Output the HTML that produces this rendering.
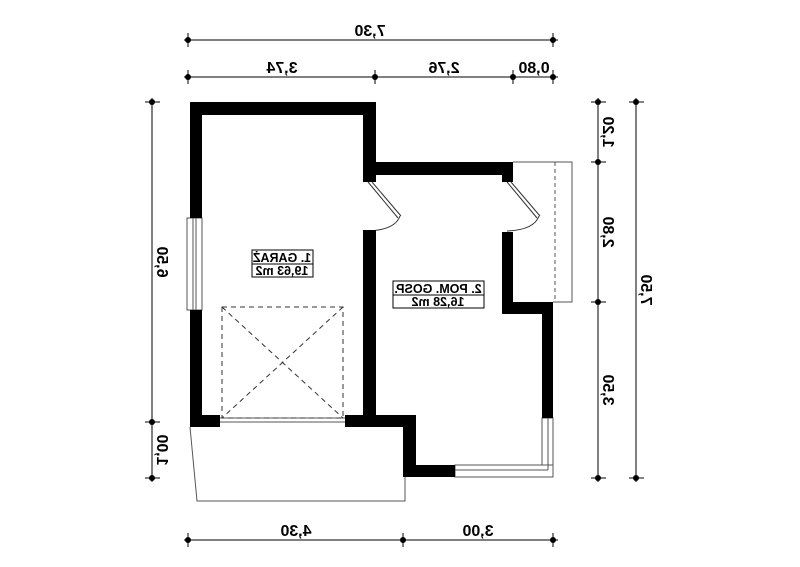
<!DOCTYPE html>
<html><head><meta charset="utf-8"><style>html,body{margin:0;padding:0;background:#fff}svg{display:block}</style></head>
<body>
<svg width="800" height="567" viewBox="0 0 800 567" xmlns="http://www.w3.org/2000/svg" font-family="Liberation Sans, sans-serif" font-weight="bold">
<rect width="800" height="567" fill="#fff"/>
<g stroke="#000" stroke-width="1">
<line x1="184" y1="40" x2="558" y2="40"/>
<line x1="188" y1="33" x2="188" y2="47"/><line x1="553" y1="33" x2="553" y2="47"/>
<line x1="184" y1="77" x2="558" y2="77"/>
<line x1="188" y1="70" x2="188" y2="84"/><line x1="375" y1="70" x2="375" y2="84"/><line x1="513" y1="70" x2="513" y2="84"/><line x1="553" y1="70" x2="553" y2="84"/>
<line x1="184" y1="540" x2="558" y2="540"/>
<line x1="188" y1="533" x2="188" y2="547"/><line x1="403" y1="533" x2="403" y2="547"/><line x1="553" y1="533" x2="553" y2="547"/>
<line x1="152" y1="98" x2="152" y2="482"/>
<line x1="145" y1="102" x2="160" y2="102"/><line x1="145" y1="422" x2="160" y2="422"/><line x1="145" y1="478" x2="160" y2="478"/>
<line x1="598" y1="98" x2="598" y2="482"/>
<line x1="591" y1="102" x2="606" y2="102"/><line x1="591" y1="162" x2="606" y2="162"/><line x1="591" y1="302" x2="606" y2="302"/><line x1="591" y1="478" x2="606" y2="478"/>
<line x1="636" y1="98" x2="636" y2="482"/>
<line x1="629" y1="102" x2="644" y2="102"/><line x1="629" y1="478" x2="644" y2="478"/>
</g>
<g fill="#000">
<circle cx="188" cy="40" r="3"/><circle cx="553" cy="40" r="3"/>
<circle cx="188" cy="77" r="3"/><circle cx="375" cy="77" r="3"/><circle cx="513" cy="77" r="3"/><circle cx="553" cy="77" r="3"/>
<circle cx="188" cy="540" r="3"/><circle cx="403" cy="540" r="3"/><circle cx="553" cy="540" r="3"/>
<circle cx="152" cy="102" r="3"/><circle cx="152" cy="422" r="3"/><circle cx="152" cy="478" r="3"/>
<circle cx="598" cy="102" r="3"/><circle cx="598" cy="162" r="3"/><circle cx="598" cy="302" r="3"/><circle cx="598" cy="478" r="3"/>
<circle cx="636" cy="102" r="3"/><circle cx="636" cy="478" r="3"/>
</g>
<g font-size="16" text-anchor="middle">
<text transform="translate(370,36) scale(-1,1)">7,30</text>
<text transform="translate(282,73) scale(-1,1)">3,74</text>
<text transform="translate(444,73) scale(-1,1)">2,76</text>
<text transform="translate(534,73) scale(-1,1)">0,80</text>
<text transform="translate(296,536) scale(-1,1)">4,30</text>
<text transform="translate(478,536) scale(-1,1)">3,00</text>
<text transform="translate(157,262) scale(-1,1) rotate(-90)">6,50</text>
<text transform="translate(157,450) scale(-1,1) rotate(-90)">1,00</text>
<text transform="translate(603,132) scale(-1,1) rotate(-90)">1,20</text>
<text transform="translate(603,232) scale(-1,1) rotate(-90)">2,80</text>
<text transform="translate(603,390) scale(-1,1) rotate(-90)">3,50</text>
<text transform="translate(641,290) scale(-1,1) rotate(-90)">7,50</text>
</g>
<g fill="none" stroke="#555" stroke-width="1">
<polyline points="190,427 197,501 405,501 405,427"/>
<polyline points="513,162 572,162 572,302 553,302"/>
<line x1="555" y1="162" x2="555" y2="302" stroke-dasharray="4,3"/>
<rect x="187" y="218" width="15" height="92" fill="#fff"/>
<line x1="193" y1="218" x2="193" y2="310"/><line x1="196" y1="218" x2="196" y2="310"/>
<rect x="542" y="418" width="11" height="59" fill="#fff"/>
<rect x="455" y="465" width="98" height="12" fill="#fff"/>
<line x1="455" y1="470" x2="548" y2="470"/><line x1="548" y1="418" x2="548" y2="470"/>
<line x1="220" y1="418" x2="345" y2="418"/><line x1="220" y1="422" x2="345" y2="422"/>
</g>
<g fill="none" stroke="#333" stroke-width="1" stroke-dasharray="5,4">
<rect x="222" y="307" width="121" height="111"/>
<line x1="222" y1="307" x2="343" y2="418"/><line x1="343" y1="307" x2="222" y2="418"/>
</g>
<g fill="none" stroke="#333" stroke-width="1">
<line x1="368" y1="182" x2="398" y2="218"/><line x1="372" y1="182" x2="401" y2="216"/>
<path d="M400 216 Q395 230 368 231"/>
<line x1="507" y1="182" x2="537" y2="218"/><line x1="511" y1="182" x2="540" y2="216"/>
<path d="M539 216 Q534 230 507 231"/>
</g>
<g fill="#000">
<rect x="190" y="102" width="186" height="13"/>
<rect x="190" y="102" width="12" height="116"/>
<rect x="190" y="310" width="12" height="117"/>
<rect x="190" y="415" width="30" height="12"/>
<rect x="363" y="102" width="13" height="80"/>
<rect x="363" y="162" width="150" height="13"/>
<rect x="502" y="162" width="11" height="20"/>
<rect x="363" y="230" width="13" height="197"/>
<rect x="345" y="415" width="70" height="12"/>
<rect x="403" y="415" width="13" height="62"/>
<rect x="403" y="465" width="52" height="12"/>
<rect x="502" y="232" width="11" height="82"/>
<rect x="502" y="302" width="51" height="12"/>
<rect x="542" y="302" width="11" height="116"/>
</g>
<g fill="#fff" stroke="#000" stroke-width="1">
<rect x="252" y="250" width="61" height="27"/><line x1="252" y1="264" x2="313" y2="264"/>
<rect x="393" y="281" width="91" height="27"/><line x1="393" y1="295" x2="484" y2="295"/>
</g>
<g font-size="12.5" text-anchor="middle" fill="#000">
<text transform="translate(282,262) scale(-1,1)">1. GARAŻ</text>
<text transform="translate(282,275) scale(-1,1)">19,63 m2</text>
<text transform="translate(438,293) scale(-1,1)">2. POM. GOSP.</text>
<text transform="translate(438,306) scale(-1,1)">16,28 m2</text>
</g>
</svg>
</body></html>
